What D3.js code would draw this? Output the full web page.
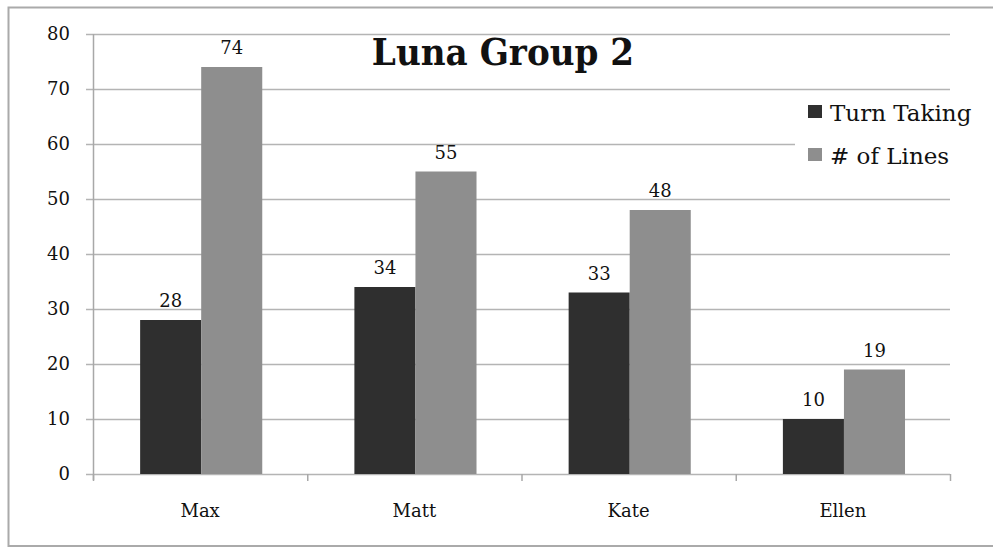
<!DOCTYPE html>
<html>
<head>
<meta charset="utf-8">
<script src="https://cdn.jsdelivr.net/npm/d3@7"></script>
<style>
  body { margin: 0; background: #fff; overflow: hidden; }
  text { font-family: "DejaVu Serif", serif; fill: #111; }
</style>
</head>
<body>
<div id="chart"></div>
<script>
// Luna Group 2 - grouped bar chart
let categories = ["Max", "Matt", "Kate", "Ellen"];
let seriesNames = ["Turn Taking", "# of Lines"];
let turnTaking = [28, 34, 33, 10];
let numLines = [74, 55, 48, 19];
let yTicks = [0, 10, 20, 30, 40, 50, 60, 70, 80];

let colors = {"Turn Taking": "#2f2f2f", "# of Lines": "#8e8e8e"};

let W = 993, H = 547;
let margins = {top: 34, right: 43, left: 93, bottom: 73};

let svg = d3.select("#chart")
    .append("svg")
    .attr("width", W)
    .attr("height", H)
    .style("display", "block");

// outer frame (top, left, bottom only - right side is cut off)
svg.append("path")
    .attr("d", "M" + W + ",7.5 H8.5 V" + (H - 1) + " H" + W)
    .attr("fill", "none")
    .attr("stroke", "#aaaaaa")
    .attr("stroke-width", 2);

let x = d3.scaleBand()
    .domain(categories)
    .range([margins.left, W - margins.right]);

let x1 = d3.scaleBand()
    .domain(seriesNames)
    .range([x.bandwidth() * 0.22, x.bandwidth() * 0.79]);

let y = d3.scaleLinear()
    .domain([0, 80])
    .range([H - margins.bottom, margins.top]);

// gridlines
svg.append("g")
    .selectAll("line")
    .data(yTicks)
    .enter()
    .append("line")
        .attr("x1", margins.left - 7)
        .attr("x2", W - margins.right)
        .attr("y1", d => y(d) + 0.5)
        .attr("y2", d => y(d) + 0.5)
        .attr("stroke", "#b4b4b4")
        .attr("stroke-width", 1.5);

// y axis labels
svg.append("g")
    .selectAll("text")
    .data(yTicks)
    .enter()
    .append("text")
        .attr("x", margins.left - 23)
        .attr("y", d => y(d))
        .attr("dy", "0.36em")
        .attr("text-anchor", "end")
        .style("font-size", "18px")
        .text(d => d);

// y axis line
svg.append("line")
    .attr("x1", margins.left + 0.5).attr("x2", margins.left + 0.5)
    .attr("y1", y(80)).attr("y2", y(0) + 6)
    .attr("stroke", "#a8a8a8")
    .attr("stroke-width", 1.5);

// x axis ticks at band edges
let edges = categories.map(c => x(c)).concat([x(categories[categories.length - 1]) + x.bandwidth()]);
svg.append("g")
    .selectAll("line")
    .data(edges)
    .enter()
    .append("line")
        .attr("x1", d => d + 0.5).attr("x2", d => d + 0.5)
        .attr("y1", y(0)).attr("y2", y(0) + 7)
        .attr("stroke", "#a8a8a8")
        .attr("stroke-width", 1.5);

// category labels
svg.append("g")
    .selectAll("text")
    .data(categories)
    .enter()
    .append("text")
        .attr("x", d => x(d) + x.bandwidth() / 2)
        .attr("y", y(0) + 43)
        .attr("text-anchor", "middle")
        .style("font-size", "18px")
        .text(d => d);

// bars
let rows = [];
categories.forEach(function(c, i) {
    rows.push({cat: c, series: "Turn Taking", value: turnTaking[i]});
    rows.push({cat: c, series: "# of Lines", value: numLines[i]});
});

svg.append("g")
    .selectAll("rect")
    .data(rows)
    .enter()
    .append("rect")
        .attr("x", d => x(d.cat) + x1(d.series))
        .attr("y", d => y(d.value))
        .attr("width", x1.bandwidth())
        .attr("height", d => y(0) - y(d.value))
        .attr("fill", d => colors[d.series]);

// value labels
svg.append("g")
    .selectAll("text")
    .data(rows)
    .enter()
    .append("text")
        .attr("x", d => x(d.cat) + x1(d.series) + x1.bandwidth() / 2)
        .attr("y", d => y(d.value) - 13)
        .attr("text-anchor", "middle")
        .style("font-size", "18px")
        .text(d => d.value);

// legend
let legend = svg.append("g");
legend.append("rect")
    .attr("x", 795).attr("y", 91)
    .attr("width", 162).attr("height", 106)
    .attr("fill", "#fff");
seriesNames.forEach(function(s, i) {
    legend.append("rect")
        .attr("x", 808).attr("y", 105 + i * 43)
        .attr("width", 14).attr("height", 13)
        .attr("fill", colors[s]);
    legend.append("text")
        .attr("x", 830).attr("y", 121 + i * 43)
        .style("font-size", "23px")
        .text(s);
});

// title
svg.append("text")
    .attr("x", 503).attr("y", 65)
    .attr("text-anchor", "middle")
    .style("font-family", "'DejaVu Serif Condensed', 'DejaVu Serif', serif")
    .style("font-stretch", "condensed")
    .style("font-weight", "bold")
    .style("font-size", "38px")
    .text("Luna Group 2");
</script>
</body>
</html>
